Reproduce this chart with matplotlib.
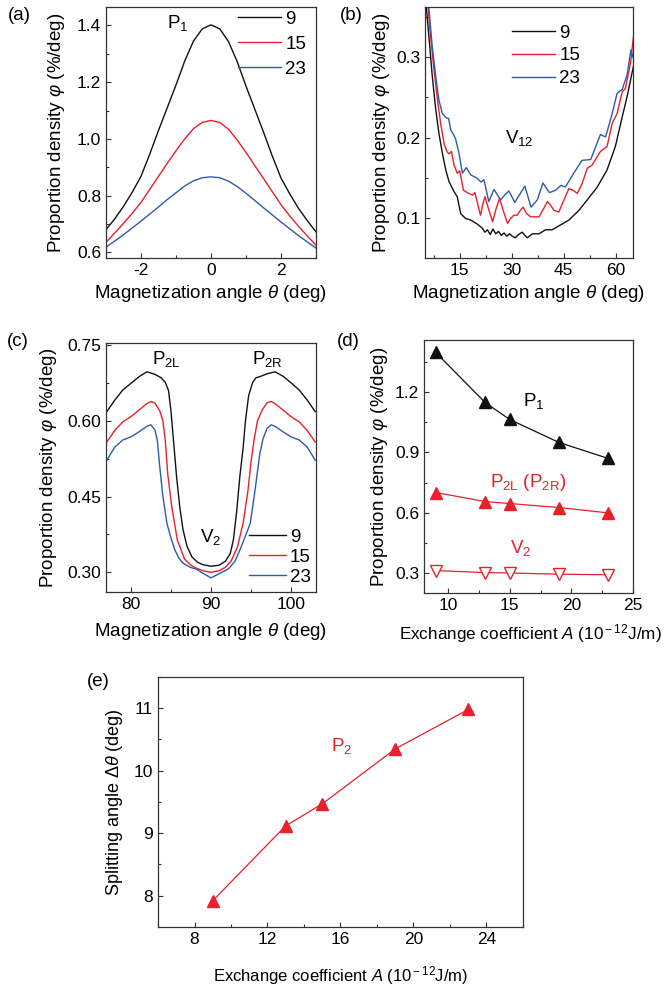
import matplotlib
matplotlib.use("Agg")
import matplotlib.pyplot as plt
from matplotlib.ticker import MultipleLocator

plt.rcParams["font.family"] = ["Liberation Sans", "DejaVu Sans"]
plt.rcParams["mathtext.fontset"] = "custom"
plt.rcParams["mathtext.rm"] = "Liberation Sans"
plt.rcParams["mathtext.it"] = "Liberation Sans:italic"
plt.rcParams["axes.unicode_minus"] = False
plt.rcParams["font.size"] = 13.5

RED = "#e8202a"
BLUE = "#2f5aa8"
BLACK = "#111111"

# ---- (a) P1 peak
a_theta = [-3, -2.75, -2.5, -2.25, -2, -1.75, -1.5, -1.25, -1, -0.75, -0.5, -0.25, 0,
           0.25, 0.5, 0.75, 1, 1.25, 1.5, 1.75, 2, 2.25, 2.5, 2.75, 3]
a_9 = [0.680, 0.718, 0.762, 0.812, 0.868, 0.946, 1.030, 1.110, 1.190, 1.275, 1.345, 1.388, 1.402,
       1.388, 1.343, 1.272, 1.186, 1.105, 1.024, 0.940, 0.862, 0.806, 0.755, 0.712, 0.672]
a_15 = [0.635, 0.668, 0.702, 0.738, 0.776, 0.822, 0.868, 0.914, 0.958, 1.000, 1.036, 1.058, 1.065,
        1.058, 1.034, 0.996, 0.952, 0.906, 0.860, 0.814, 0.768, 0.728, 0.692, 0.658, 0.625]
a_23 = [0.618, 0.640, 0.662, 0.686, 0.710, 0.735, 0.760, 0.786, 0.810, 0.834, 0.852, 0.863, 0.866,
        0.863, 0.851, 0.832, 0.808, 0.783, 0.757, 0.732, 0.707, 0.683, 0.659, 0.637, 0.615]

# ---- (b) V12 valley
b9_theta = [5.0, 6.2, 7.1, 8.1, 9, 10, 11, 11.9, 13.4, 14.3, 15.3, 16.7, 18.2, 20.1, 21.5, 22.3, 23,
            23.8, 24.6, 25.4, 26.2, 27, 27.8, 28.6, 29.4, 30.2, 31, 32, 33, 34.5, 36, 37.9, 39.8,
            41.7, 44.1, 46.5, 49.4, 51.8, 54.7, 57.5, 59.9, 61.9, 63.3, 64.7, 65.2]
b9 = [0.380, 0.322, 0.276, 0.235, 0.206, 0.181, 0.160, 0.146, 0.133, 0.127, 0.106, 0.100, 0.098,
      0.093, 0.088, 0.083, 0.086, 0.080, 0.087, 0.081, 0.084, 0.079, 0.082, 0.078, 0.081, 0.078,
      0.076, 0.080, 0.083, 0.076, 0.081, 0.081, 0.086, 0.086, 0.092, 0.098, 0.110, 0.123, 0.139,
      0.160, 0.189, 0.226, 0.251, 0.280, 0.290]
b15_theta = [5.7, 6.6, 7.6, 8.6, 9.5, 10.5, 11.3, 11.9, 12.6, 13.4, 14.3, 15, 16.1, 17.2, 18.7, 19.4,
             20.2, 21.0, 21.7, 22.3, 23.3, 24.5, 25.5, 26.5, 27.7, 28.8, 29.7, 30.6, 31.6, 32.5,
             33.3, 34.3, 35.5, 37.9, 39.2, 40.3, 41.3, 42.2, 43.6, 45, 46.5, 47.7, 48.9, 50.3, 51.8,
             53.2, 55.6, 57.5, 59, 60.4, 61.9, 62.8, 64.3, 65.2]
b15 = [0.370, 0.326, 0.284, 0.247, 0.218, 0.193, 0.183, 0.180, 0.183, 0.166, 0.156, 0.159, 0.135,
       0.132, 0.129, 0.132, 0.118, 0.104, 0.118, 0.127, 0.112, 0.096, 0.112, 0.125, 0.108, 0.094,
       0.100, 0.104, 0.104, 0.110, 0.114, 0.106, 0.102, 0.102, 0.112, 0.121, 0.116, 0.110, 0.108,
       0.122, 0.137, 0.135, 0.131, 0.143, 0.162, 0.166, 0.183, 0.189, 0.218, 0.230, 0.257, 0.261,
       0.293, 0.328]
b23_theta = [5.9, 7.1, 8.1, 9, 10, 11, 11.8, 12.4, 13.2, 13.8, 14.8, 15.8, 16.9, 18.2, 20, 21.2, 22,
             23.4, 24.9, 26.8, 28.2, 29.2, 30.9, 32.5, 33.8, 35.6, 37.4, 39, 40.9, 42.7, 44.2, 45.5,
             47.9, 50.3, 52.8, 55.6, 57.1, 59, 60.4, 61.9, 63.3, 64.4, 65.2]
b23 = [0.371, 0.313, 0.276, 0.247, 0.230, 0.225, 0.224, 0.210, 0.204, 0.199, 0.181, 0.156, 0.163,
       0.154, 0.150, 0.145, 0.148, 0.121, 0.136, 0.123, 0.130, 0.134, 0.120, 0.131, 0.140, 0.114,
       0.123, 0.144, 0.132, 0.135, 0.141, 0.139, 0.156, 0.172, 0.173, 0.204, 0.201, 0.230, 0.255,
       0.260, 0.278, 0.309, 0.297]

# ---- (c) P2L / V2 / P2R
c9_theta = [77, 78, 79, 80, 81, 82, 83, 83.8, 84.3, 84.7, 85.0, 85.3, 85.7, 86.1, 86.5, 87.0, 87.6,
            88.3, 89.0, 90.0, 91.0, 91.8, 92.4, 92.8, 93.2, 93.6, 94.0, 94.3, 94.7, 95.2, 95.6,
            96.2, 97.0, 98.0, 99.0, 100.0, 101.0, 102.0, 103.0]
c9 = [0.618, 0.641, 0.661, 0.674, 0.687, 0.697, 0.692, 0.685, 0.676, 0.660, 0.620, 0.565, 0.490,
      0.430, 0.385, 0.352, 0.331, 0.320, 0.315, 0.312, 0.314, 0.322, 0.337, 0.365, 0.420, 0.490,
      0.545, 0.600, 0.650, 0.676, 0.685, 0.688, 0.693, 0.697, 0.688, 0.675, 0.661, 0.641, 0.618]
c15_theta = [77, 78, 79, 80, 81, 82, 82.5, 83, 83.6, 84.0, 84.3, 84.6, 85.1, 85.8, 86.7, 87.5, 88.2,
             89.0, 90.0, 91.0, 91.8, 92.5, 93.3, 94.0, 94.6, 95.0, 95.4, 95.8, 96.4, 97.0, 97.5,
             98.0, 99.0, 100.0, 101.0, 102.0, 103.0]
c15 = [0.558, 0.581, 0.598, 0.608, 0.621, 0.634, 0.638, 0.635, 0.620, 0.600, 0.560, 0.495, 0.430,
       0.364, 0.326, 0.314, 0.308, 0.303, 0.300, 0.303, 0.310, 0.322, 0.350, 0.397, 0.460, 0.520,
       0.565, 0.600, 0.622, 0.636, 0.638, 0.634, 0.621, 0.608, 0.598, 0.581, 0.558]
c23_theta = [77, 78, 79, 80, 81, 82, 82.5, 83, 83.3, 83.6, 84.0, 84.5, 85.0, 85.5, 86.0, 86.5, 87.4,
             88.2, 89.0, 90.0, 91.0, 92.2, 93.0, 93.6, 94.2, 94.9, 95.5, 96.1, 96.5, 97.0, 97.5,
             98.0, 99.0, 100.0, 101.0, 102.0, 103.0]
c23 = [0.522, 0.548, 0.562, 0.568, 0.578, 0.589, 0.592, 0.582, 0.562, 0.510, 0.450, 0.397, 0.368,
       0.344, 0.328, 0.318, 0.310, 0.306, 0.298, 0.289, 0.297, 0.307, 0.322, 0.344, 0.368, 0.397,
       0.463, 0.536, 0.565, 0.585, 0.592, 0.589, 0.578, 0.568, 0.562, 0.548, 0.522]

# ---- (d) peak / valley heights vs A
A_vals = [9, 13, 15, 19, 23]
d_P1 = [1.40, 1.15, 1.065, 0.95, 0.87]
d_P2 = [0.70, 0.655, 0.645, 0.625, 0.598]
d_V2 = [0.31, 0.30, 0.298, 0.292, 0.289]

# ---- (e) splitting angle
e_split = [7.92, 9.12, 9.47, 10.35, 10.98]

legend_labels = ["9", "15", "23"]


def style(ax):
    for s in ax.spines.values():
        s.set_linewidth(0.9)
        s.set_color("#333333")
    ax.tick_params(which="both", direction="in", top=False, right=False,
                   labelsize=12.5, color="#333333")
    ax.tick_params(which="major", length=3.5, width=0.8)
    ax.tick_params(which="minor", length=2.2, width=0.8)


fig = plt.figure(figsize=(6.64, 9.88), dpi=100)
W, H = 664, 988


def add_ax(l, t, r, b):
    return fig.add_axes([l / W, 1 - b / H, (r - l) / W, (b - t) / H])


phi_label = r"Proportion density $\varphi$ (%/deg)"
theta_label = r"Magnetization angle $\theta$ (deg)"
A_label = r"Exchange coefficient $A$ (10$^{\rm -12}$J/m)"
leg_kw = dict(loc="upper left", frameon=False, fontsize=13.5, handletextpad=0.2,
              borderpad=0, borderaxespad=0)

# (a)
ax = add_ax(106, 7, 316, 258)
ax.plot(a_theta, a_9, color=BLACK, lw=1.0, label=legend_labels[0])
ax.plot(a_theta, a_15, color=RED, lw=1.0, label=legend_labels[1])
ax.plot(a_theta, a_23, color=BLUE, lw=1.0, label=legend_labels[2])
ax.set_xlim(-3, 3)
ax.set_ylim(0.58, 1.465)
ax.xaxis.set_major_locator(MultipleLocator(2))
ax.xaxis.set_minor_locator(MultipleLocator(1))
ax.yaxis.set_major_locator(MultipleLocator(0.2))
ax.yaxis.set_minor_locator(MultipleLocator(0.1))
ax.text(-1.25, 1.41, r"P$_{\rm 1}$", fontsize=13.5, ha="left", va="center")
ax.legend(bbox_to_anchor=(0.63, 0.985), handlelength=2.3, labelspacing=0.42, **leg_kw)
ax.set_xlabel(theta_label)
ax.set_ylabel(phi_label)
ax.xaxis.set_label_coords(0.5, -0.1)
ax.yaxis.set_label_coords(-0.185, 0.5)
style(ax)
fig.text(8 / W, 1 - 16 / H, "(a)", fontsize=13.5, va="center")

# (b)
ax = add_ax(425, 7, 633, 258)
ax.plot(b9_theta, b9, color=BLACK, lw=1.0, label=legend_labels[0])
ax.plot(b15_theta, b15, color=RED, lw=1.0, label=legend_labels[1])
ax.plot(b23_theta, b23, color=BLUE, lw=1.0, label=legend_labels[2])
ax.set_xlim(5, 65)
ax.set_ylim(0.051, 0.362)
ax.xaxis.set_major_locator(MultipleLocator(15))
ax.xaxis.set_minor_locator(MultipleLocator(7.5))
ax.yaxis.set_major_locator(MultipleLocator(0.1))
ax.yaxis.set_minor_locator(MultipleLocator(0.05))
ax.text(28.0, 0.2, r"V$_{\rm 12}$", fontsize=13.5, ha="left", va="center")
ax.legend(bbox_to_anchor=(0.42, 0.93), handlelength=2.3, labelspacing=0.3, **leg_kw)
ax.set_xlabel(theta_label)
ax.set_ylabel(phi_label)
ax.xaxis.set_label_coords(0.5, -0.1)
ax.yaxis.set_label_coords(-0.16, 0.5)
style(ax)
fig.text(340 / W, 1 - 16 / H, "(b)", fontsize=13.5, va="center")

# (c)
ax = add_ax(106, 343, 316, 592)
ax.plot(c9_theta, c9, color=BLACK, lw=1.0, label=legend_labels[0])
ax.plot(c15_theta, c15, color=RED, lw=1.0, label=legend_labels[1])
ax.plot(c23_theta, c23, color=BLUE, lw=1.0, label=legend_labels[2])
ax.set_xlim(76.9, 103.1)
ax.set_ylim(0.261, 0.754)
ax.xaxis.set_major_locator(MultipleLocator(10))
ax.xaxis.set_minor_locator(MultipleLocator(5))
ax.yaxis.set_major_locator(MultipleLocator(0.15))
ax.yaxis.set_minor_locator(MultipleLocator(0.075))
ax.text(82.7, 0.722, r"P$_{\rm 2L}$", fontsize=13.5, ha="left", va="center")
ax.text(95.1, 0.722, r"P$_{\rm 2R}$", fontsize=13.5, ha="left", va="center")
ax.text(88.6, 0.37, r"V$_{\rm 2}$", fontsize=13.5, ha="left", va="center")
ax.legend(bbox_to_anchor=(0.68, 0.255), handlelength=2.0, labelspacing=0.15, **leg_kw)
ax.set_xlabel(theta_label)
ax.set_ylabel(phi_label)
ax.xaxis.set_label_coords(0.5, -0.115)
ax.yaxis.set_label_coords(-0.225, 0.5)
style(ax)
fig.text(7 / W, 1 - 341 / H, "(c)", fontsize=13.5, va="center")

# (d)
ax = add_ax(424, 340, 633, 593)
ax.plot(A_vals, d_P1, color=BLACK, lw=0.9, marker="^", ms=8, mfc=BLACK, mec=BLACK)
ax.plot(A_vals, d_P2, color=RED, lw=0.9, marker="^", ms=8, mfc=RED, mec=RED)
ax.plot(A_vals, d_V2, color=RED, lw=0.9, marker="v", ms=8, mfc="white", mec=RED)
ax.set_xlim(8.05, 25)
ax.set_ylim(0.198, 1.462)
ax.xaxis.set_major_locator(MultipleLocator(5))
ax.xaxis.set_minor_locator(MultipleLocator(2.5))
ax.yaxis.set_major_locator(MultipleLocator(0.3))
ax.yaxis.set_minor_locator(MultipleLocator(0.15))
ax.text(16.1, 1.155, r"P$_{\rm 1}$", fontsize=13.5, ha="left", va="center")
ax.text(13.4, 0.75, r"P$_{\rm 2L}$ (P$_{\rm 2R}$)", fontsize=13.5, color=RED, ha="left", va="center")
ax.text(15.0, 0.425, r"V$_{\rm 2}$", fontsize=13.5, color=RED, ha="left", va="center")
ax.set_xlabel(A_label, fontsize=12.3)
ax.set_ylabel(phi_label)
ax.xaxis.set_label_coords(0.51, -0.115)
ax.yaxis.set_label_coords(-0.165, 0.5)
style(ax)
fig.text(337 / W, 1 - 341 / H, "(d)", fontsize=13.5, va="center")

# (e)
ax = add_ax(158, 677, 523, 927)
ax.plot(A_vals, e_split, color=RED, lw=0.9, marker="^", ms=9, mfc=RED, mec=RED)
ax.set_xlim(6, 26)
ax.set_ylim(7.5, 11.5)
ax.xaxis.set_major_locator(MultipleLocator(4))
ax.xaxis.set_minor_locator(MultipleLocator(2))
ax.yaxis.set_major_locator(MultipleLocator(1))
ax.yaxis.set_minor_locator(MultipleLocator(0.5))
ax.text(15.5, 10.4, r"P$_{\rm 2}$", fontsize=13.5, color=RED, ha="left", va="center")
ax.set_xlabel(A_label, fontsize=12)
ax.set_ylabel(r"Splitting angle $\Delta\theta$ (deg)", fontsize=13)
ax.xaxis.set_label_coords(0.5, -0.15)
ax.yaxis.set_label_coords(-0.09, 0.5)
style(ax)
fig.text(87 / W, 1 - 681 / H, "(e)", fontsize=13.5, va="center")

fig.savefig("out.png", dpi=100)
